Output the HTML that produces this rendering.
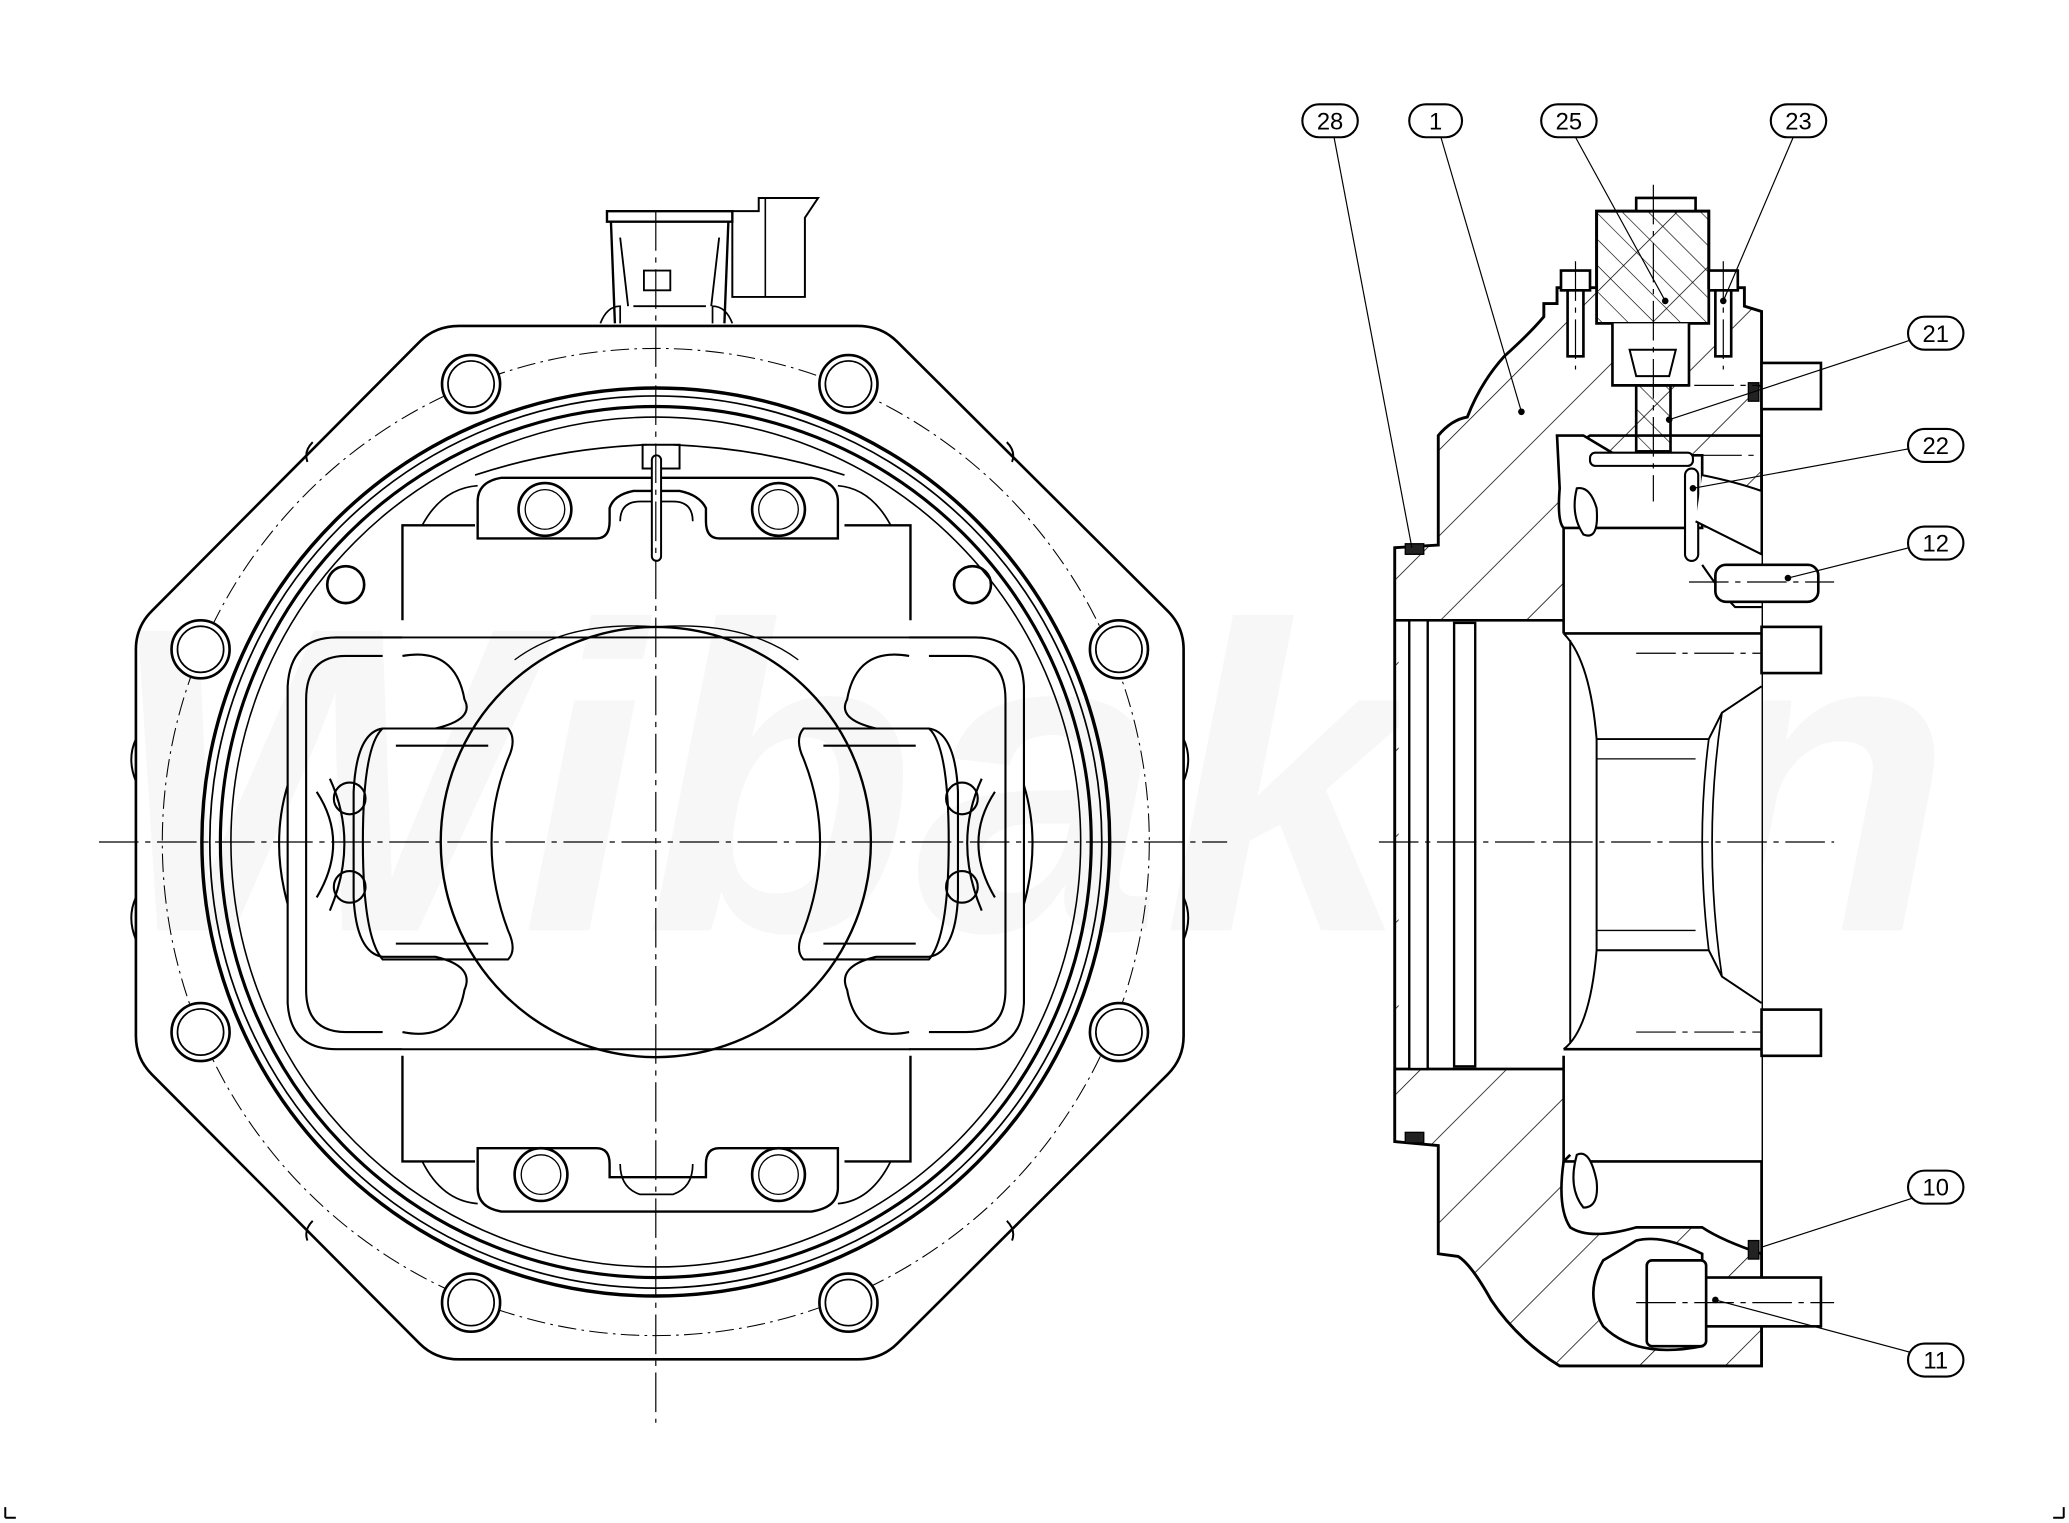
<!DOCTYPE html>
<html><head><meta charset="utf-8"><style>html,body{margin:0;padding:0;background:#fff}svg{display:block}</style></head>
<body>
<svg xmlns="http://www.w3.org/2000/svg" width="2069" height="1523" viewBox="0 0 1568 1154" preserveAspectRatio="none" font-family="Liberation Sans, sans-serif">
<defs>
<pattern id="h" patternUnits="userSpaceOnUse" width="46" height="46" patternTransform="rotate(-45)">
<line x1="0" y1="0" x2="46" y2="0" stroke="#000" stroke-width="1.2"/>
</pattern>
<pattern id="h2" patternUnits="userSpaceOnUse" width="14" height="14" patternTransform="rotate(45)">
<line x1="0" y1="0" x2="14" y2="0" stroke="#000" stroke-width="1"/>
</pattern>
<g id="bolt"><circle r="22" fill="#fff" stroke="#000" stroke-width="2"/><circle r="17.5" fill="none" stroke="#000" stroke-width="1.3"/></g>
<g id="lobe" fill="none" stroke="#000" stroke-width="1.6">
<path d="M305,483 L255,483 Q220,483 218,520 L218,760 Q220,795 255,795 L305,795"/>
<path d="M290,497 L262,497 Q232,497 232,530 L232,750 Q232,782 262,782 L290,782"/>
<path d="M305,497 Q345,490 352,530 Q360,545 330,552 L290,552 Q270,555 268,600 L268,680 Q270,722 290,725 L330,725 Q360,732 352,750 Q345,790 305,782"/>
<path d="M290,552 L385,552 Q392,560 385,575 Q360,638 385,705 Q392,720 385,727 L290,727 Q275,710 275,638 Q275,565 290,552 Z"/>
<path d="M300,565 L370,565 M300,715 L370,715"/>
<path d="M240,600 Q265,638 240,680 M250,590 Q272,638 250,690"/>
<circle cx="265" cy="605" r="12"/><circle cx="265" cy="672" r="12"/>
<path d="M218,595 Q205,638 218,685"/>
</g>
</defs>
<rect width="1568" height="1154" fill="#fff"/>
<text x="80" y="705" font-size="330" font-weight="bold" font-style="italic" fill="#f7f7f7" textLength="1400" lengthAdjust="spacingAndGlyphs">Wibakon</text>
<g stroke="#000" stroke-width="1.5"><path d="M4,1150 L12,1150 M4,1150 L4,1142 M1564,1150 L1556,1150 M1564,1150 L1564,1142"/></g>

<!-- LEFT VIEW -->
<g fill="none" stroke="#000" stroke-width="2">
<path d="M348,247 L650,247 Q668,247 680,259 L885,463 Q897,475 897,492 L897,785 Q897,802 885,814 L680,1018 Q668,1030 650,1030 L348,1030 Q330,1030 318,1018 L115,814 Q103,802 103,785 L103,492 Q103,475 115,463 L318,259 Q330,247 348,247 Z"/>
<path d="M103,560 Q96,575 103,592 M103,680 Q96,695 103,712 M897,560 Q904,575 897,592 M897,680 Q904,695 897,712" stroke-width="1.5"/>
<path d="M237,335 Q230,342 233,350 M763,335 Q770,342 767,350 M237,925 Q230,932 233,940 M763,925 Q770,932 767,940" stroke-width="1.5"/>
<circle cx="497" cy="638" r="344" stroke-width="2.6"/>
<circle cx="497" cy="638" r="338" stroke-width="1.3"/>
<circle cx="497" cy="638" r="330" stroke-width="2.4"/>
<circle cx="497" cy="638" r="322" stroke-width="1.2"/>
<circle cx="497" cy="638" r="374" stroke-width="0.8" stroke-dasharray="14,4,2,4"/>
</g>
<use href="#bolt" x="357" y="291"/><use href="#bolt" x="643" y="291"/>
<use href="#bolt" x="152" y="492"/><use href="#bolt" x="848" y="492"/>
<use href="#bolt" x="152" y="782"/><use href="#bolt" x="848" y="782"/>
<use href="#bolt" x="357" y="987"/><use href="#bolt" x="643" y="987"/>
<g fill="none" stroke="#000" stroke-width="2">
<circle cx="262" cy="443" r="14"/><circle cx="737" cy="443" r="14"/>
<path d="M305,470 L305,398 L360,398 M640,398 L690,398 L690,470 M305,800 L305,880 L360,880 M640,880 L690,880 L690,800" stroke-width="1.8"/>
<path d="M305,483 L690,483 M305,795 L690,795" stroke-width="1.5"/>
<circle cx="497" cy="638" r="163" stroke-width="1.8"/>
<path d="M390,500 Q430,470 497,475 M605,500 Q565,470 497,475" stroke-width="1"/>
<!-- connector -->
<path d="M460,160 L555,160 L555,168 L460,168 Z M463,168 L466,245 M552,168 L549,245" stroke-width="1.8"/>
<path d="M470,180 L476,232 M545,180 L539,232 M480,232 L535,232 M488,205 L508,205 L508,220 L488,220 Z" stroke-width="1.4"/>
<path d="M555,168 L555,225 L610,225 L610,165 L620,150 L575,150 L575,160 L555,160" stroke-width="1.5"/>
<path d="M580,150 L580,225" stroke-width="1.2"/>
<path d="M455,245 Q460,232 470,232 L470,245 M540,245 L540,232 Q550,232 555,245" stroke-width="1.3"/>
<!-- top lobe -->
<path d="M362,408 L362,380 Q362,365 380,362 L615,362 Q635,365 635,380 L635,408 L545,408 Q535,408 535,395 L535,385 Q530,375 515,372 L480,372 Q465,375 462,385 L462,395 Q462,408 452,408 Z" stroke-width="1.8"/>
<path d="M470,395 Q470,380 485,380 L510,380 Q525,380 525,395" stroke-width="1.3"/>
<path d="M320,398 Q335,370 362,368 M675,398 Q660,370 635,368" stroke-width="1.3"/>
<path d="M360,360 Q420,340 490,337 M640,360 Q580,340 510,337" stroke-width="1.3"/>
<circle cx="413" cy="386" r="20"/><circle cx="413" cy="386" r="15" stroke-width="1"/>
<circle cx="590" cy="386" r="20"/><circle cx="590" cy="386" r="15" stroke-width="1"/>
<rect x="487" y="337" width="28" height="18" stroke-width="1.5"/>
<rect x="494" y="345" width="7" height="80" rx="3.5" fill="#fff" stroke-width="1.5"/>
<!-- bottom lobe -->
<path d="M362,870 L362,900 Q362,915 380,918 L615,918 Q635,915 635,900 L635,870 L545,870 Q535,870 535,882 L535,892 L462,892 L462,882 Q462,870 452,870 Z" stroke-width="1.8"/>
<path d="M470,882 Q470,900 485,905 L510,905 Q525,900 525,882" stroke-width="1.3"/>
<path d="M320,880 Q335,910 362,912 M675,880 Q660,910 635,912" stroke-width="1.3"/>
<circle cx="410" cy="890" r="20"/><circle cx="410" cy="890" r="15" stroke-width="1"/>
<circle cx="590" cy="890" r="20"/><circle cx="590" cy="890" r="15" stroke-width="1"/>
</g>
<use href="#lobe"/>
<use href="#lobe" transform="translate(994,0) scale(-1,1)"/>
<g stroke="#000" stroke-width="0.9" stroke-dasharray="30,5,4,5" fill="none">
<path d="M75,638 L930,638"/><path d="M497,160 L497,1078"/>
</g>

<!-- RIGHT VIEW -->
<path d="M1057,415 L1090,413 L1090,330 Q1100,318 1112,316 Q1122,290 1140,270 Q1160,252 1170,240 L1170,230 L1180,230 L1180,218 L1210,218 L1210,160 L1295,160 L1295,218 L1322,218 L1322,232 L1335,236 L1335,1035 L1182,1035 Q1150,1015 1130,985 Q1115,958 1105,952 L1090,950 L1090,868 L1057,865 Z" fill="url(#h)" stroke="#000" stroke-width="2.2"/>
<g fill="#fff" stroke="#000" stroke-width="2">
<path d="M1060,470 L1185,470 L1185,400 L1335,400 L1335,880 L1185,880 L1185,810 L1060,810 Z" stroke="none"/>
<path d="M1057,470 L1185,470 M1057,810 L1185,810" fill="none"/>
<path d="M1185,480 L1185,400 L1190,340 L1205,330 L1335,330 M1185,800 L1185,880 L1190,875" fill="none"/>
<rect x="1068" y="470" width="14" height="340" stroke-width="1.8"/>
<rect x="1102" y="472" width="16" height="336" stroke-width="1.8"/>
<path d="M1185,480 L1335,480 M1185,795 L1335,795" fill="none"/>
<path d="M1190,485 L1190,790 M1185,480 Q1205,500 1210,560 L1210,720 Q1205,780 1185,795" fill="none" stroke-width="1.5"/>
<path d="M1210,560 L1295,560 L1305,540 L1335,520 M1210,720 L1295,720 L1305,740 L1335,760" fill="none" stroke-width="1.5"/>
<path d="M1295,560 Q1285,638 1295,720 M1305,540 Q1290,638 1305,740" fill="none" stroke-width="1.3"/>
<path d="M1210,575 L1285,575 M1210,705 L1285,705" fill="none" stroke-width="1"/>
<path d="M1180,330 L1200,330 L1225,345 L1290,345 L1290,400 L1185,400 Q1180,395 1182,370 Z"/>
<path d="M1195,370 Q1190,390 1200,405 Q1212,410 1210,385 Q1205,368 1195,370 Z" stroke-width="1.6"/>
<rect x="1205" y="343" width="78" height="10" rx="4" stroke-width="1.6"/>
<rect x="1277" y="355" width="10" height="70" rx="5" stroke-width="1.6"/>
<path d="M1290,360 Q1315,365 1335,372 L1335,420 Q1305,405 1285,395" stroke-width="1.6"/>
<path d="M1290,428 Q1305,450 1315,460 L1335,460" fill="none" stroke-width="1.6"/>
<path d="M1185,880 L1335,880 L1335,950 Q1305,940 1290,930 L1240,930 Q1205,940 1190,930 Q1180,915 1185,880 Z"/>
<path d="M1195,875 Q1188,900 1200,915 Q1212,915 1210,895 Q1205,870 1195,875 Z" stroke-width="1.6"/>
<path d="M1215,955 Q1200,980 1215,1005 Q1240,1030 1290,1020 L1290,950 Q1260,935 1240,940 Z"/>
<path d="M1240,160 L1240,150 L1285,150 L1285,160" fill="#fff"/>
<rect x="1210" y="160" width="85" height="85" fill="url(#h2)"/>
<rect x="1210" y="160" width="85" height="85" fill="none"/>
<path d="M1222,245 L1222,292 L1280,292 L1280,245" fill="#fff"/>
<path d="M1235,265 L1270,265 L1265,285 L1240,285 Z" stroke-width="1.5"/>
<rect x="1240" y="292" width="26" height="50" fill="url(#h2)"/>
<rect x="1183" y="205" width="22" height="15"/>
<rect x="1188" y="220" width="12" height="50"/>
<rect x="1295" y="205" width="22" height="15"/>
<rect x="1300" y="220" width="12" height="50"/>
<rect x="1335" y="275" width="45" height="35"/>
<rect x="1335" y="475" width="45" height="35"/>
<rect x="1335" y="765" width="45" height="35"/>
<rect x="1290" y="968" width="90" height="37"/>
<rect x="1248" y="955" width="45" height="65" rx="4"/>
<rect x="1300" y="428" width="78" height="28" rx="8"/>
<rect x="1065" y="412" width="14" height="8" fill="#222" stroke-width="1"/>
<rect x="1065" y="858" width="14" height="8" fill="#222" stroke-width="1"/>
<rect x="1325" y="290" width="8" height="14" fill="#222" stroke-width="1"/>
<rect x="1325" y="940" width="8" height="14" fill="#222" stroke-width="1"/>
</g>
<g stroke="#000" stroke-width="0.9" stroke-dasharray="30,5,4,5" fill="none">
<path d="M1045,638 L1390,638"/>
<path d="M1240,495 L1335,495 M1240,782 L1335,782 M1240,292 L1335,292 M1280,441 L1390,441 M1240,987 L1390,987 M1290,345 L1330,345"/>
<path d="M1194,198 L1194,280 M1306,198 L1306,280 M1253,140 L1253,380"/>
</g>
<g stroke="#000" stroke-width="0.9" fill="none">
<path d="M1011,104 L1070,415"/>
<path d="M1092,104 L1153,312"/>
<path d="M1194,104 L1262,228"/>
<path d="M1359,104 L1306,228"/>
<path d="M1447,258 L1265,318"/>
<path d="M1447,340 L1283,370"/>
<path d="M1447,415 L1355,438"/>
<path d="M1449,908 L1335,945"/>
<path d="M1449,1025 L1300,985"/>
</g>
<g fill="#000"><circle cx="1153" cy="312" r="2.5"/><circle cx="1262" cy="228" r="2.5"/><circle cx="1306" cy="228" r="2.5"/><circle cx="1265" cy="318" r="2.5"/><circle cx="1283" cy="370" r="2.5"/><circle cx="1355" cy="438" r="2.5"/><circle cx="1300" cy="985" r="2.5"/></g>
<g fill="#fff" stroke="#000" stroke-width="1.6">
<rect x="987" y="79" width="42" height="25" rx="12.5"/>
<rect x="1068" y="79" width="40" height="25" rx="12.5"/>
<rect x="1168" y="79" width="42" height="25" rx="12.5"/>
<rect x="1342" y="79" width="42" height="25" rx="12.5"/>
<rect x="1446" y="240" width="42" height="25" rx="12.5"/>
<rect x="1446" y="325" width="42" height="25" rx="12.5"/>
<rect x="1446" y="399" width="42" height="25" rx="12.5"/>
<rect x="1446" y="887" width="42" height="25" rx="12.5"/>
<rect x="1446" y="1018" width="42" height="25" rx="12.5"/>
</g>
<g font-size="18" text-anchor="middle" fill="#000">
<text x="1008" y="98">28</text><text x="1088" y="98">1</text><text x="1189" y="98">25</text><text x="1363" y="98">23</text>
<text x="1467" y="259">21</text><text x="1467" y="344">22</text><text x="1467" y="418">12</text><text x="1467" y="906">10</text><text x="1467" y="1037">11</text>
</g>
</svg>
</body></html>
